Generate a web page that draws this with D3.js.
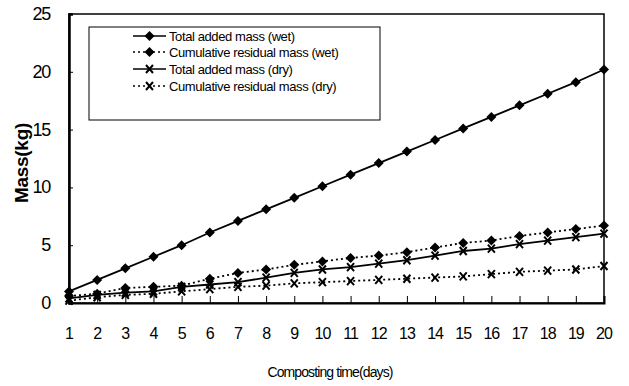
<!DOCTYPE html>
<html>
<head>
<meta charset="utf-8">
<script src="https://cdn.jsdelivr.net/npm/d3@7"></script>
<style>
  body { margin: 0; background: #fff; }
  text { font-family: "Liberation Sans", Arial, sans-serif; fill: #000; }
</style>
</head>
<body>
<svg width="629" height="386"></svg>
<script>
// data
var days = d3.range(1, 21);
var totalWet = [1.0, 2.0, 3.0, 4.0, 5.0, 6.1, 7.1, 8.1, 9.1, 10.1, 11.1, 12.1, 13.1, 14.1, 15.1, 16.1, 17.1, 18.1, 19.1, 20.2];
var residualWet = [0.6, 0.8, 1.3, 1.4, 1.5, 2.1, 2.6, 2.9, 3.3, 3.6, 3.9, 4.1, 4.4, 4.8, 5.2, 5.4, 5.8, 6.1, 6.4, 6.7];
var totalDry = [0.4, 0.7, 0.9, 1.0, 1.4, 1.6, 1.8, 2.2, 2.6, 2.9, 3.1, 3.4, 3.7, 4.1, 4.5, 4.7, 5.1, 5.4, 5.7, 6.0];
var residualDry = [0.2, 0.5, 0.7, 0.8, 1.0, 1.2, 1.4, 1.5, 1.7, 1.8, 1.9, 2.0, 2.1, 2.2, 2.3, 2.5, 2.7, 2.8, 2.9, 3.2];
var yTicks = [0, 5, 10, 15, 20, 25];
var seriesNames = ["Total added mass (wet)", "Cumulative residual mass (wet)", "Total added mass (dry)", "Cumulative residual mass (dry)"];

var series = [
  {name: seriesNames[0], values: totalWet, marker: "diamond", dash: null},
  {name: seriesNames[1], values: residualWet, marker: "diamond", dash: "2,3"},
  {name: seriesNames[2], values: totalDry, marker: "cross", dash: null},
  {name: seriesNames[3], values: residualDry, marker: "cross", dash: "2,3"}
];

var svg = d3.select("svg");
var plotLeft = 69, plotRight = 604, plotTop = 14, plotBottom = 303;

var x = d3.scaleLinear().domain([1, 20]).range([plotLeft, plotRight]);
var y = d3.scaleLinear().domain([0, 25]).range([plotBottom, plotTop]);

// plot frame
svg.append("rect")
  .attr("x", plotLeft).attr("y", plotTop)
  .attr("width", plotRight - plotLeft).attr("height", plotBottom - plotTop)
  .attr("fill", "none").attr("stroke", "#000").attr("stroke-width", 1.5);

// y axis, ticks pointing inward
var yAxis = svg.append("g")
  .attr("transform", "translate(" + plotLeft + ",0)")
  .call(d3.axisRight(y).tickValues(yTicks).tickSize(4).tickFormat(""));
yAxis.select(".domain").attr("stroke-width", 2.5);
yAxis.selectAll("line").attr("stroke-width", 1);

svg.append("g").selectAll("text")
  .data(yTicks)
  .enter().append("text")
  .attr("x", 50).attr("y", function(d) { return y(d) + 6; })
  .attr("text-anchor", "end")
  .style("font-size", "18px")
  .attr("letter-spacing", "-1.2")
  .text(function(d) { return d; });

// x axis, ticks pointing up
var xAxis = svg.append("g")
  .attr("transform", "translate(0," + plotBottom + ")")
  .call(d3.axisTop(x).tickValues(days).tickSize(7).tickFormat(""));
xAxis.select(".domain").attr("stroke-width", 2);
xAxis.selectAll("line").attr("stroke-width", 1);

svg.append("g").selectAll("text")
  .data(days)
  .enter().append("text")
  .attr("x", function(d) { return x(d); }).attr("y", 339)
  .attr("text-anchor", "middle")
  .style("font-size", "16px")
  .attr("letter-spacing", "-1")
  .text(function(d) { return d; });

// axis titles
svg.append("text")
  .attr("transform", "translate(28,163) rotate(-90)")
  .attr("text-anchor", "middle")
  .style("font-size", "19px")
  .style("font-weight", "bold")
  .attr("letter-spacing", "-0.3")
  .text("Mass(kg)");

svg.append("text")
  .attr("x", 330).attr("y", 377)
  .attr("text-anchor", "middle")
  .style("font-size", "14px")
  .attr("letter-spacing", "-0.9")
  .text("Composting time(days)");

// markers
function drawMarker(g, type, cx, cy) {
  if (type === "diamond") {
    g.append("path")
      .attr("d", "M0,-5L5,0L0,5L-5,0Z")
      .attr("transform", "translate(" + cx + "," + cy + ")")
      .attr("fill", "#000");
  } else {
    g.append("path")
      .attr("d", "M-3.5,-4L3.5,4M3.5,-4L-3.5,4")
      .attr("transform", "translate(" + cx + "," + cy + ")")
      .attr("stroke", "#000").attr("stroke-width", 2).attr("fill", "none");
  }
}

var line = d3.line()
  .x(function(d, i) { return x(days[i]); })
  .y(function(d) { return y(d); });

series.forEach(function(s) {
  var g = svg.append("g");
  g.append("path")
    .attr("d", line(s.values))
    .attr("fill", "none")
    .attr("stroke", "#000")
    .attr("stroke-width", 1.8)
    .attr("stroke-dasharray", s.dash);
  s.values.forEach(function(v, i) {
    drawMarker(g, s.marker, x(days[i]), y(v));
  });
});

// legend
var legend = svg.append("g");
legend.append("rect")
  .attr("x", 89).attr("y", 27)
  .attr("width", 291).attr("height", 93)
  .attr("fill", "#fff").attr("stroke", "#000").attr("stroke-width", 1);

var rowY = [36, 52, 69, 86];
series.forEach(function(s, i) {
  var ly = rowY[i];
  legend.append("line")
    .attr("x1", 133).attr("x2", 166)
    .attr("y1", ly).attr("y2", ly)
    .attr("stroke", "#000").attr("stroke-width", 1.5)
    .attr("stroke-dasharray", s.dash);
  drawMarker(legend, s.marker, 149.5, ly);
  legend.append("text")
    .attr("x", 169).attr("y", ly + 4.5)
    .style("font-size", "13px")
    .attr("letter-spacing", "-0.4")
    .text(s.name);
});
</script>
</body>
</html>
